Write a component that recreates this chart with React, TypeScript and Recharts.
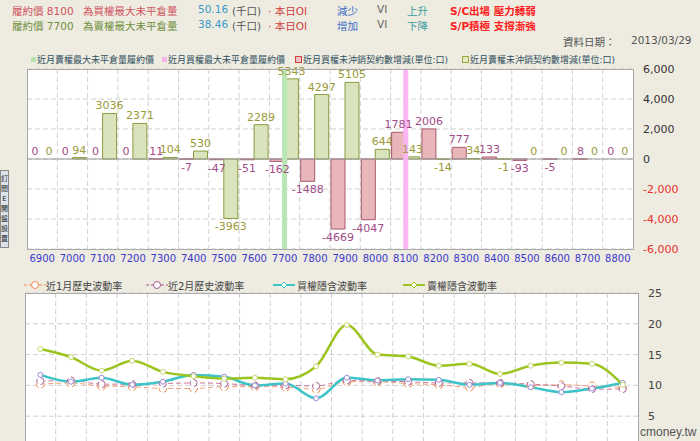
import React from 'react'
import {
  ComposedChart, Bar, Line, XAxis, YAxis, CartesianGrid, ReferenceLine, LabelList, Cell,
} from 'recharts'

const strikes = ['6900', '7000', '7100', '7200', '7300', '7400', '7500', '7600', '7700', '7800', '7900', '8000', '8100', '8200', '8300', '8400', '8500', '8600', '8700', '8800']
const callChg = [0, 0, 0, 0, 11, -7, -47, -51, -162, -1488, -4669, -4047, 1781, 2006, 777, 133, -93, -5, 8, 0]
const putChg = [0, 94, 3036, 2371, 104, 530, -3963, 2289, 5343, 4297, 5105, 644, 143, -14, 34, -1, 0, 0, 0, 0]
const callMaxStrike = '8100'
const putMaxStrike = '7700'
const topTicks = [-6000, -4000, -2000, 0, 2000, 4000, 6000]

const hv1 = [10.2, 10.4, 9.9, 9.8, 9.5, 9.5, 9.8, 9.8, 9.7, 9.4, 10.6, 10.6, 10.3, 10.1, 9.7, 10.3, 10.0, 10.1, 9.9, 9.7]
const hv2 = [10.7, 10.8, 10.2, 10.2, 10.3, 10.4, 10.3, 10.0, 10.0, 9.9, 10.8, 10.7, 10.6, 10.4, 10.4, 10.4, 10.2, 9.9, 9.4, 9.4]
const callIV = [11.7, 10.6, 11.25, 10.1, 10.6, 11.7, 11.4, 10.0, 10.3, 7.9, 11.25, 10.8, 11.0, 10.9, 10.1, 10.4, 9.7, 8.9, 9.5, 10.4]
const putIV = [15.9, 14.6, 12.4, 14.0, 12.2, 11.5, 11.1, 11.25, 11.0, 13.1, 19.8, 15.0, 14.7, 13.2, 13.5, 11.85, 13.2, 13.7, 13.5, 10.1]
const bottomTicks = [5, 10, 15, 20, 25]

const barData = strikes.map((s, i) => ({ strike: s, call: callChg[i], put: putChg[i] }))
const volData = strikes.map((s, i) => ({ strike: s, hv1: hv1[i], hv2: hv2[i], civ: callIV[i], piv: putIV[i] }))

const FONT = '"DejaVu Sans", "Noto Sans CJK TC", sans-serif'

// grid lines sit on the category boundaries, not the centres
const boundaries = (args: any) => {
  const o = args.offset
  const n = strikes.length
  return Array.from({ length: n - 1 }, (_, i) => o.left + ((i + 1) * o.width) / n)
}

// zero values still need a (hairline) rect so their "0" label gets drawn
const zeroSize = (v: number) => (Number(v) === 0 ? 0.001 : 0)

const barLabel = (color: string) => (props: any) => {
  const { x, y, width, height, value } = props
  const v = Number(value)
  const top = Math.min(y, y + height)
  const bot = Math.max(y, y + height)
  const ty = v < 0 ? bot + 12 : top - 4
  return (
    <text x={x + width / 2} y={ty} textAnchor="middle" fill={color} fontSize={11} fontFamily={FONT}>
      {String(v)}
    </text>
  )
}

const TopTick = (props: any) => {
  const { x, y, payload } = props
  const v = payload.value
  return (
    <text x={x} y={y + 4} fill={v < 0 ? '#e8302a' : '#333'} fontSize={11} fontFamily={FONT}>
      {v.toLocaleString('en-US')}
    </text>
  )
}

const StrikeTick = (props: any) => {
  const { x, y, payload } = props
  return (
    <text x={x} y={y + 4} textAnchor="middle" fill="#3a3acc" fontSize={10} fontFamily={FONT}>
      {payload.value}
    </text>
  )
}

const VolTick = (props: any) => {
  const { x, y, payload } = props
  return (
    <text x={x} y={y + 4} fill="#444" fontSize={11} fontFamily={FONT}>
      {payload.value}
    </text>
  )
}

const Head = ({ x, y, color, bold, size, children }: any) => (
  <span style={{ position: 'absolute', left: x, top: y, color, fontSize: size, fontWeight: bold ? 'bold' : 'normal', whiteSpace: 'nowrap' }}>
    {children}
  </span>
)

const Sq = ({ x, y, fill, stroke, size }: any) => (
  <span style={{ position: 'absolute', left: x, top: y, width: size, height: size, background: fill, border: stroke ? `1px solid ${stroke}` : 'none' }} />
)

const LineMark = ({ x, y, color, dash, circle }: any) => (
  <svg width={22} height={10} style={{ position: 'absolute', left: x, top: y }}>
    <line x1={0} y1={5} x2={22} y2={5} stroke={color} strokeWidth={circle ? 1 : 2} strokeDasharray={dash ? '3 2' : undefined} />
    {circle
      ? <circle cx={11} cy={5} r={3.5} fill="#fff" stroke={color} />
      : <path d="M11 2 L14 5 L11 8 L8 5 Z" fill="#fff" stroke={color} />}
  </svg>
)

export default function App() {
  return (
    <div style={{ position: 'absolute', left: 0, top: 0, width: 700, height: 441, overflow: 'hidden', background: '#eeebe1', fontFamily: FONT, fontSize: 10.5 }}>
      <Head x={12} y={3} color="#cf5560">履約價 8100</Head>
      <Head x={83} y={3} color="#cf5560">為買權最大未平倉量</Head>
      <Head x={198} y={3} color="#3a9ac8">50.16</Head>
      <Head x={232} y={3} color="#555">(千口)</Head>
      <Head x={268} y={3} color="#cf3c3c">· 本日OI</Head>
      <Head x={337} y={3} color="#3a6ec8">減少</Head>
      <Head x={377} y={3} color="#666">VI</Head>
      <Head x={407} y={3} color="#3a9e9e">上升</Head>
      <Head x={450} y={3} color="#ff2020" bold>S/C出場 壓力轉弱</Head>

      <Head x={12} y={18} color="#6e8f3e">履約價 7700</Head>
      <Head x={83} y={18} color="#6e8f3e">為賣權最大未平倉量</Head>
      <Head x={198} y={18} color="#3a9ac8">38.46</Head>
      <Head x={232} y={18} color="#555">(千口)</Head>
      <Head x={268} y={18} color="#cf3c3c">· 本日OI</Head>
      <Head x={337} y={18} color="#3a6ec8">增加</Head>
      <Head x={377} y={18} color="#666">VI</Head>
      <Head x={407} y={18} color="#3a9e9e">下降</Head>
      <Head x={450} y={18} color="#ff2020" bold>S/P積極 支撐漸強</Head>

      <Head x={563} y={34} color="#555">資料日期：</Head>
      <Head x={631} y={34} color="#555">2013/03/29</Head>

      <div style={{ position: 'absolute', left: 0, top: 0 }}>
        <ComposedChart width={700} height={270} data={barData} margin={{ top: 69, left: 27, right: 7, bottom: 0 }} barGap={0} barCategoryGap={1}>
          <CartesianGrid fill="#fff" stroke="#cfcfcf" strokeDasharray="5 3" verticalCoordinatesGenerator={boundaries} />
          <XAxis dataKey="strike" interval={0} axisLine={false} tickLine={false} tickSize={0} tickMargin={9} height={21} tick={<StrikeTick />} />
          <YAxis orientation="right" width={60} domain={[-6000, 6000]} ticks={topTicks} axisLine={false} tickLine={false} tickSize={0} tickMargin={10} tick={<TopTick />} />
          <ReferenceLine y={0} stroke="#9a9a9a" />
          <ReferenceLine x={putMaxStrike} stroke="#b9e7b4" strokeWidth={5} />
          <ReferenceLine x={callMaxStrike} stroke="#fbb5f2" strokeWidth={5} />
          <Bar dataKey="call" fill="#e9b6ba" stroke="#a85a6c" strokeWidth={1} minPointSize={zeroSize} isAnimationActive={false}>
            {callChg.map((v, i) => <Cell key={i} stroke={v === 0 ? 'none' : '#a85a6c'} />)}
            <LabelList dataKey="call" content={barLabel('#a14c86')} />
          </Bar>
          <Bar dataKey="put" fill="#d9e4bd" stroke="#8c9b3e" strokeWidth={1} minPointSize={zeroSize} isAnimationActive={false}>
            {putChg.map((v, i) => <Cell key={i} stroke={v === 0 ? 'none' : '#8c9b3e'} />)}
            <LabelList dataKey="put" content={barLabel('#9b9a36')} />
          </Bar>
        </ComposedChart>
      </div>
      <div style={{ position: 'absolute', left: 27, top: 69, width: 605, height: 179, border: '1px solid #a9a9a9', pointerEvents: 'none' }} />

      <div style={{ color: '#2e4f5e' }}>
        <Sq x={31} y={57} fill="#b9e2b3" size={5} />
        <Head x={37} y={53} size={9}>近月賣權最大未平倉量履約價</Head>
        <Sq x={162} y={57} fill="#f7b4ea" size={5} />
        <Head x={168} y={53} size={9}>近月買權最大未平倉量履約價</Head>
        <Sq x={295} y={56} fill="#f0c4c4" stroke="#d04040" size={5} />
        <Head x={303} y={53} size={9}>近月買權未沖銷契約數增減(單位:口)</Head>
        <Sq x={462} y={56} fill="#e4ebc6" stroke="#98a83e" size={5} />
        <Head x={470} y={53} size={9}>近月賣權未沖銷契約數增減(單位:口)</Head>
      </div>

      <div style={{ position: 'absolute', left: 0, top: 170, width: 7, padding: '3px 0', background: '#dde3ea', border: '1px solid #8a8a8a', fontSize: 7, lineHeight: '10px', color: '#222', textAlign: 'center' }}>
        訂閱E開盤設置
      </div>

      <div style={{ position: 'absolute', left: 0, top: 280 }}>
        <ComposedChart width={700} height={167} data={volData} margin={{ top: 13, left: 25, right: 2, bottom: 0 }}>
          <CartesianGrid fill="#fff" stroke="#cfcfcf" strokeDasharray="5 3" verticalCoordinatesGenerator={boundaries} />
          <XAxis dataKey="strike" scale="band" hide />
          <YAxis orientation="right" width={60} domain={[0, 25]} ticks={bottomTicks} axisLine={false} tickLine={false} tickSize={0} tickMargin={10} tick={<VolTick />} />
          <Line type="monotone" dataKey="hv1" stroke="#f4a27a" strokeWidth={1} strokeDasharray="5 3" dot={{ r: 4, fill: '#fff', stroke: '#f08a50', strokeWidth: 1 }} isAnimationActive={false} />
          <Line type="monotone" dataKey="hv2" stroke="#d07898" strokeWidth={1} strokeDasharray="5 3" dot={{ r: 3.5, fill: '#fff', stroke: '#a05a90', strokeWidth: 1 }} isAnimationActive={false} />
          <Line type="monotone" dataKey="civ" stroke="#3cc4c8" strokeWidth={2.5} dot={{ r: 2.5, fill: '#fff', stroke: '#9a8ad8', strokeWidth: 1 }} isAnimationActive={false} />
          <Line type="monotone" dataKey="piv" stroke="#9cc41e" strokeWidth={2.5} dot={{ r: 2.5, fill: '#fff', stroke: '#c8d870', strokeWidth: 1 }} isAnimationActive={false} />
        </ComposedChart>
      </div>
      <div style={{ position: 'absolute', left: 25, top: 293, width: 612, height: 160, border: '1px solid #a9a9a9', pointerEvents: 'none' }} />

      <div style={{ color: '#444' }}>
        <LineMark x={24} y={280} color="#f08a50" dash circle />
        <Head x={46} y={278} size={10}>近1月歷史波動率</Head>
        <LineMark x={146} y={280} color="#a05a90" dash circle />
        <Head x={168} y={278} size={10}>近2月歷史波動率</Head>
        <LineMark x={273} y={280} color="#3cc4c8" />
        <Head x={297} y={278} size={10}>買權隱含波動率</Head>
        <LineMark x={403} y={280} color="#9cc41e" />
        <Head x={427} y={278} size={10}>賣權隱含波動率</Head>
      </div>

      <div style={{ position: 'absolute', left: 640, top: 425, color: '#555', fontSize: 12, fontFamily: '"Liberation Sans", Arial, sans-serif' }}>cmoney.tw</div>
    </div>
  )
}
